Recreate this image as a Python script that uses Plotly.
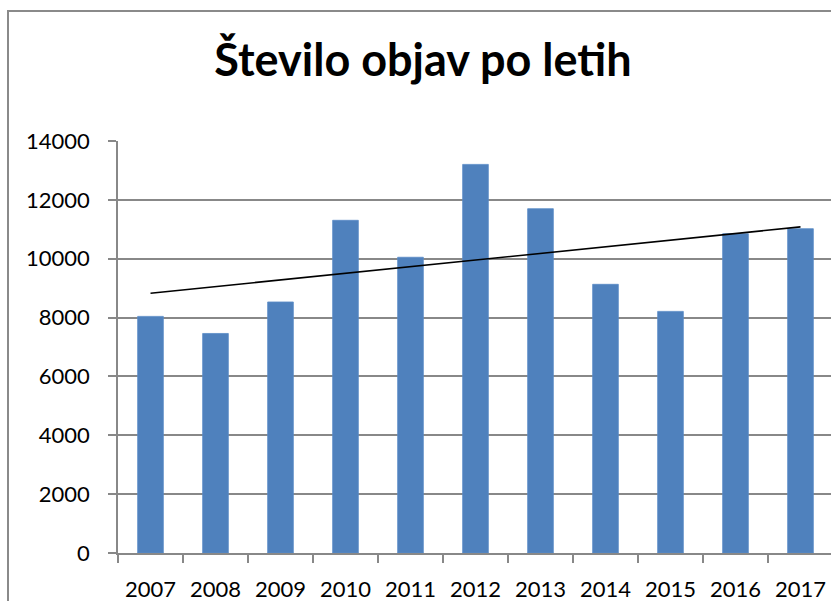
import numpy as np
import plotly.graph_objects as go

years = ["2007", "2008", "2009", "2010", "2011", "2012", "2013", "2014", "2015", "2016", "2017"]
counts = [8040, 7460, 8530, 11305, 10050, 13205, 11700, 9130, 8210, 10850, 11020]
y_ticks = [0, 2000, 4000, 6000, 8000, 10000, 12000, 14000]
title_text = "Število objav po letih"

# linear trendline fitted to the data
idx = np.arange(len(counts))
slope, intercept = np.polyfit(idx, counts, 1)
trend = [intercept + slope * i for i in (idx[0], idx[-1])]

W, H = 831, 601
ML, MR, MT, MB = 118, 0, 141, 48
pw = W - ML - MR
ph = H - MT - MB
cat_px = 65.0

fig = go.Figure()
fig.add_trace(go.Bar(
    x=years, y=counts,
    marker=dict(color="#4F81BD", line=dict(color="#5B8BC6", width=0.8)),
    showlegend=False,
))
fig.add_trace(go.Scatter(
    x=[years[0], years[-1]], y=trend, mode="lines",
    line=dict(color="black", width=1.6), showlegend=False,
))

grid_col = "#888888"
fig.update_layout(
    width=W, height=H,
    margin=dict(l=ML, r=MR, t=MT, b=MB, pad=0, autoexpand=False),
    paper_bgcolor="white", plot_bgcolor="white",
    bargap=0.605,
    font=dict(family="Lato, Carlito, sans-serif", color="black"),
    title=dict(text="<b>" + title_text + "</b>", x=423 / W, xanchor="center",
               xref="container",
               y=1 - 60 / H, yref="container", yanchor="middle",
               font=dict(family="Lato, sans-serif", size=45, color="black")),
    xaxis=dict(
        type="category", automargin=False,
        range=[-0.5, -0.5 + pw / cat_px],
        showgrid=False,
        showline=True, linecolor=grid_col, linewidth=1.5,
        ticks="outside", tickson="boundaries", ticklen=8, tickcolor=grid_col, tickwidth=1.5,
        tickfont=dict(size=22, family="Lato, sans-serif", color="black"),
        ticklabelstandoff=16,
    ),
    yaxis=dict(
        range=[0, 14000], automargin=False,
        tickvals=y_ticks, ticktext=[str(v) for v in y_ticks],
        showgrid=True, gridcolor=grid_col, gridwidth=1.5,
        showline=True, linecolor=grid_col, linewidth=1.5,
        ticks="outside", ticklen=8, tickcolor=grid_col, tickwidth=1.5,
        tickfont=dict(size=22, family="Lato, sans-serif", color="black"),
        ticklabelstandoff=14,
        zeroline=False,
    ),
    shapes=[dict(
        type="rect", xref="paper", yref="paper",
        x0=(8 - ML) / pw, x1=1.2, y0=-0.3, y1=(H - MB - 11) / ph,
        line=dict(color="#8a8a8a", width=2), fillcolor="rgba(0,0,0,0)", layer="below",
    )],
)

fig.write_html("out.html",
               config={"displayModeBar": False},
               post_script="document.body.style.margin='0';document.body.style.overflow='hidden';")
